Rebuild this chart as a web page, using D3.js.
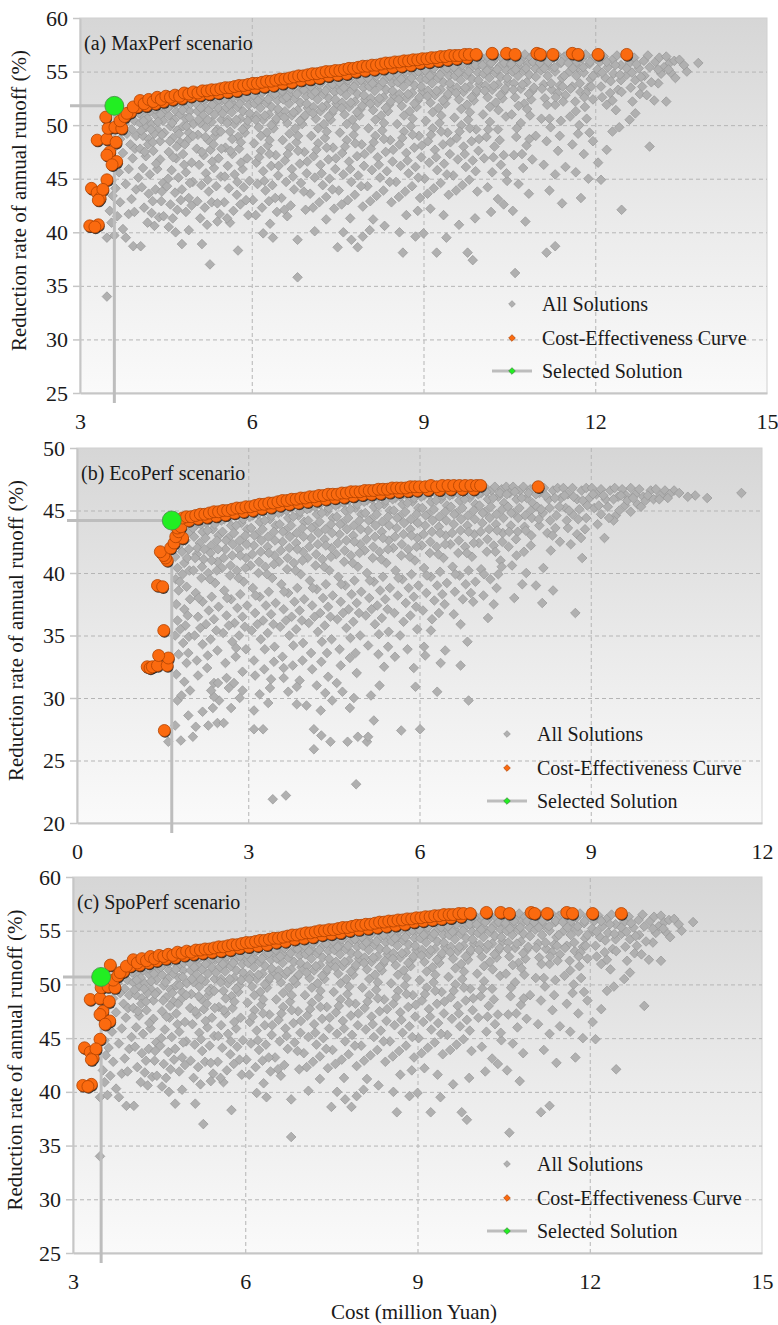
<!DOCTYPE html>
<html lang="en">
<head>
<meta charset="utf-8">
<title>Cost-effectiveness scatter</title>
<script src="https://cdn.jsdelivr.net/npm/d3@7"></script>
<style>
    body { margin: 0; background: #fff; }
    text { font-family: "Liberation Serif", "Times New Roman", "DejaVu Serif", serif; fill: #1a1a1a; }
</style>
</head>
<body>
<script>
// ---- data ----
var xTicksAC = [3, 6, 9, 12, 15];
var yTicksAC = [25, 30, 35, 40, 45, 50, 55, 60];
var xTicksB = [0, 3, 6, 9, 12];
var yTicksB = [20, 25, 30, 35, 40, 45, 50];

var legendLabels = ["All Solutions", "Cost-Effectiveness Curve", "Selected Solution"];
var panelTitles = ["(a) MaxPerf scenario", "(b) EcoPerf scenario", "(c) SpoPerf scenario"];

// selected solutions [cost, reduction]
var selectedA = [3.6, 51.8];
var selectedB = [1.66, 44.2];
var selectedC = [3.49, 50.7];

// all solutions, MaxPerf and SpoPerf (same cloud in both panels)
var allSolutionsA = [
[3.72,50.6],[3.78,50.1],[3.85,50.9],[3.9,49.6],[3.95,50.4],[3.82,49.2],[3.7,48.7],[3.88,48.2],[3.98,49.0],[3.6,47.9],[3.75,47.4],[3.92,46.9],[3.58,46.3],[3.68,45.6],[3.85,45.9],[3.55,44.8],[3.62,44.1],[3.8,44.5],[3.57,43.4],[3.7,42.8],[3.9,43.1],[3.52,42.0],[3.65,41.5],[3.85,41.7],[3.55,40.9],[3.75,40.3],[3.47,39.5],[3.6,39.7],[3.47,34.0],[3.93,38.7],[3.8,39.5],[3.95,41.9],[3.98,44.0],[3.96,47.8],
[4.02,51.6],[4.08,51.0],[4.12,51.8],[4.18,50.6],[4.22,51.3],[4.28,52.0],[4.33,50.9],[4.38,51.6],[4.42,52.1],[4.48,51.2],[4.05,50.2],[4.15,49.8],[4.25,50.1],[4.35,49.6],[4.45,50.4],[4.1,49.0],[4.2,48.7],[4.3,49.2],[4.4,48.5],[4.47,49.3],
[4.05,47.8],[4.15,47.1],[4.28,47.6],[4.4,46.8],[4.1,46.0],[4.22,45.4],[4.35,45.9],[4.45,44.6],[4.08,44.2],[4.2,43.6],[4.32,44.0],[4.42,42.9],[4.12,42.3],[4.25,41.8],[4.38,41.4],[4.06,38.7],[4.3,40.6],[4.46,41.5],
[4.52,52.4],[4.58,51.8],[4.62,52.5],[4.68,51.3],[4.72,52.2],[4.78,52.6],[4.82,51.7],[4.88,52.3],[4.95,52.7],[4.55,50.9],[4.65,50.5],[4.75,51.0],[4.85,50.6],[4.92,51.3],[4.58,49.9],[4.7,49.5],[4.8,49.9],[4.9,49.3],[4.98,50.1],[4.62,48.8],[4.75,48.4],[4.88,48.6],
[4.55,47.5],[4.68,46.9],[4.8,47.3],[4.95,46.5],[4.6,45.8],[4.72,45.1],[4.85,45.6],[4.97,44.7],[4.52,44.3],[4.66,43.7],[4.78,44.0],[4.9,43.2],[4.58,42.6],[4.7,42.1],[4.85,41.9],[4.95,42.5],[4.62,41.3],[4.78,38.9],[4.9,40.2],[4.55,40.5],
[5.02,52.8],[5.08,52.2],[5.13,52.9],[5.18,51.7],[5.22,52.5],[5.28,53.0],[5.33,52.0],[5.38,52.7],[5.45,53.1],[5.48,52.3],[5.05,51.3],[5.15,50.9],[5.25,51.4],[5.35,51.0],[5.42,51.6],[5.1,50.2],[5.2,49.8],[5.3,50.3],[5.4,49.6],[5.47,50.5],[5.06,49.1],[5.24,48.6],[5.36,49.0],
[5.04,47.8],[5.16,47.2],[5.28,47.7],[5.42,46.9],[5.08,46.3],[5.2,45.5],[5.34,46.0],[5.46,45.2],[5.12,44.4],[5.25,43.8],[5.38,44.3],[5.05,42.9],[5.18,42.3],[5.3,42.8],[5.44,41.7],[5.13,38.9],[5.27,37.0],[5.4,41.0],[5.22,40.7],
[5.52,53.1],[5.57,52.5],[5.62,53.2],[5.67,52.0],[5.72,52.8],[5.77,53.3],[5.82,52.3],[5.87,53.0],[5.93,53.4],[5.97,52.6],[5.55,51.6],[5.65,51.2],[5.75,51.7],[5.85,51.3],[5.95,51.9],[5.58,50.5],[5.7,50.1],[5.8,50.6],[5.9,49.9],[5.98,50.8],[5.62,49.4],[5.76,48.9],[5.88,49.3],
[5.54,47.9],[5.66,47.3],[5.78,47.8],[5.92,46.9],[5.58,46.2],[5.7,45.4],[5.84,45.9],[5.96,44.8],[5.6,44.1],[5.74,43.5],[5.86,44.2],[5.52,42.8],[5.68,42.0],[5.8,42.6],[5.94,41.6],[5.76,38.3],[5.62,40.9],
[6.02,53.5],[6.07,52.9],[6.12,53.6],[6.17,52.4],[6.22,53.2],[6.28,53.7],[6.33,52.7],[6.38,53.4],[6.44,53.8],[6.48,53.0],[6.05,52.0],[6.15,51.6],[6.25,52.1],[6.35,51.7],[6.45,52.3],[6.08,50.9],[6.2,50.5],[6.3,51.0],[6.4,50.3],[6.48,51.2],[6.12,49.8],[6.26,49.3],[6.38,49.7],
[6.04,48.3],[6.16,47.6],[6.28,48.1],[6.42,47.2],[6.08,46.5],[6.2,45.7],[6.34,46.2],[6.46,45.3],[6.1,44.5],[6.24,43.9],[6.36,44.4],[6.02,43.0],[6.18,42.3],[6.3,42.9],[6.44,41.9],[6.2,39.9],[6.37,39.5],[6.32,40.8],
[6.52,53.9],[6.57,53.3],[6.62,54.0],[6.67,52.8],[6.72,53.6],[6.77,54.1],[6.82,53.1],[6.87,53.8],[6.93,54.2],[6.97,53.4],[6.55,52.4],[6.65,52.0],[6.75,52.5],[6.85,52.1],[6.95,52.7],[6.58,51.3],[6.7,50.9],[6.8,51.4],[6.9,50.7],[6.98,51.6],[6.62,50.2],[6.76,49.7],[6.88,50.1],
[6.54,48.6],[6.66,47.9],[6.78,48.4],[6.92,47.5],[6.58,46.7],[6.7,45.9],[6.84,46.4],[6.96,45.5],[6.6,44.7],[6.74,44.0],[6.86,44.6],[6.52,43.2],[6.68,42.5],[6.8,39.3],[6.8,35.8],[6.94,42.1],[6.62,41.5],
[7.02,54.3],[7.07,53.7],[7.12,54.4],[7.17,53.2],[7.22,54.0],[7.28,54.5],[7.33,53.5],[7.38,54.2],[7.44,54.6],[7.48,53.8],[7.05,52.8],[7.15,52.4],[7.25,52.9],[7.35,52.5],[7.45,53.1],[7.08,51.7],[7.2,51.3],[7.3,51.8],[7.4,51.1],[7.48,52.0],[7.12,50.6],[7.26,50.1],[7.38,50.5],
[7.04,49.0],[7.16,48.3],[7.28,48.8],[7.42,47.9],[7.08,47.1],[7.2,46.3],[7.34,46.8],[7.46,45.9],[7.1,45.1],[7.24,44.4],[7.36,45.0],[7.02,43.6],[7.18,42.8],[7.3,43.3],[7.44,42.2],[7.1,40.1],[7.3,41.2],
[7.52,54.7],[7.57,54.1],[7.62,54.8],[7.67,53.6],[7.72,54.4],[7.77,54.9],[7.82,53.9],[7.87,54.6],[7.93,55.0],[7.97,54.2],[7.55,53.2],[7.65,52.8],[7.75,53.3],[7.85,52.9],[7.95,53.5],[7.58,52.1],[7.7,51.7],[7.8,52.2],[7.9,51.5],[7.98,52.4],[7.62,51.0],[7.76,50.5],[7.88,50.9],
[7.54,49.3],[7.66,48.6],[7.78,49.1],[7.92,48.2],[7.58,47.4],[7.7,46.6],[7.84,47.1],[7.96,46.2],[7.6,45.4],[7.74,44.7],[7.86,45.3],[7.52,43.9],[7.68,43.0],[7.8,43.5],[7.94,42.4],[7.5,38.6],[7.6,40.0],[7.74,39.3],[7.85,38.6],[7.94,39.6],[7.72,41.3],
[8.02,55.1],[8.07,54.5],[8.12,55.2],[8.17,54.0],[8.22,54.8],[8.28,55.3],[8.33,54.3],[8.38,55.0],[8.44,55.4],[8.48,54.6],[8.05,53.6],[8.15,53.2],[8.25,53.7],[8.35,53.3],[8.45,53.9],[8.08,52.5],[8.2,52.1],[8.3,52.6],[8.4,51.9],[8.48,52.8],[8.12,51.4],[8.26,50.9],[8.38,51.3],
[8.04,49.7],[8.16,49.0],[8.28,49.5],[8.42,48.6],[8.08,47.8],[8.2,47.0],[8.34,47.5],[8.46,46.6],[8.1,45.8],[8.24,45.1],[8.36,45.7],[8.02,44.3],[8.18,43.4],[8.3,43.9],[8.44,42.8],[8.12,41.2],[8.32,40.6],[8.06,40.2],
[8.52,55.5],[8.57,54.9],[8.62,55.6],[8.67,54.4],[8.72,55.2],[8.77,55.7],[8.82,54.7],[8.87,55.4],[8.93,55.7],[8.97,55.0],[8.55,54.0],[8.65,53.6],[8.75,54.1],[8.85,53.7],[8.95,54.3],[8.58,52.9],[8.7,52.5],[8.8,53.0],[8.9,52.3],[8.98,53.2],[8.62,51.8],[8.76,51.3],[8.88,51.7],
[8.54,50.1],[8.66,49.4],[8.78,49.9],[8.92,49.0],[8.58,48.2],[8.7,47.4],[8.84,47.9],[8.96,47.0],[8.6,46.2],[8.74,45.5],[8.86,46.1],[8.52,44.7],[8.68,43.8],[8.8,44.3],[8.94,43.2],[8.64,38.1],[8.58,40.0],[8.86,39.6],[8.7,41.6],[8.9,42.0],
[9.02,55.8],[9.07,55.2],[9.12,55.9],[9.17,54.7],[9.22,55.5],[9.28,56.0],[9.33,55.0],[9.38,55.7],[9.44,56.0],[9.48,55.3],[9.05,54.3],[9.15,53.9],[9.25,54.4],[9.35,54.0],[9.45,54.6],[9.08,53.2],[9.2,52.8],[9.3,53.3],[9.4,52.6],[9.48,53.5],[9.12,52.1],[9.26,51.6],[9.38,52.0],
[9.04,50.4],[9.16,49.7],[9.28,50.2],[9.42,49.3],[9.08,48.5],[9.2,47.7],[9.34,48.2],[9.46,47.3],[9.1,46.5],[9.24,45.8],[9.36,46.4],[9.02,45.0],[9.18,44.1],[9.3,44.6],[9.44,43.5],[9.0,39.9],[9.23,38.1],[9.4,39.5],[9.12,42.2],[9.35,41.6],
[9.52,56.1],[9.57,55.5],[9.62,56.2],[9.67,55.0],[9.72,55.8],[9.77,56.2],[9.82,55.3],[9.87,56.0],[9.93,56.3],[9.97,55.6],[9.55,54.6],[9.65,54.2],[9.75,54.7],[9.85,54.3],[9.95,54.9],[9.58,53.5],[9.7,53.1],[9.8,53.6],[9.9,52.9],[9.98,53.8],[9.62,52.4],[9.76,51.9],[9.88,52.3],
[9.54,50.7],[9.66,50.0],[9.78,50.5],[9.92,49.6],[9.58,48.8],[9.7,48.0],[9.84,48.5],[9.96,47.6],[9.6,46.8],[9.74,46.1],[9.86,46.7],[9.52,45.3],[9.68,44.4],[9.8,44.9],[9.94,43.8],[9.77,38.1],[9.86,37.4],[9.62,40.7],[9.9,41.3],
[10.02,56.3],[10.07,55.7],[10.12,56.4],[10.17,55.2],[10.22,56.0],[10.28,56.4],[10.33,55.5],[10.38,56.2],[10.44,56.5],[10.48,55.8],[10.05,54.8],[10.15,54.4],[10.25,54.9],[10.35,54.5],[10.45,55.1],[10.08,53.7],[10.2,53.3],[10.3,53.8],[10.4,53.1],[10.48,54.0],[10.12,52.6],[10.26,52.1],[10.38,52.5],
[10.04,51.0],[10.16,50.3],[10.3,49.6],[10.44,50.8],[10.1,48.9],[10.24,48.0],[10.4,47.2],[10.06,46.9],[10.2,45.6],[10.35,46.3],[10.12,44.2],[10.3,43.1],[10.46,44.8],[10.18,41.9],[10.4,42.6],
[10.52,56.5],[10.57,55.9],[10.62,56.5],[10.67,55.4],[10.72,56.2],[10.77,56.6],[10.82,55.7],[10.87,56.3],[10.93,56.6],[10.97,55.9],[10.55,55.0],[10.65,54.6],[10.75,55.1],[10.85,54.7],[10.95,55.3],[10.58,53.9],[10.7,53.4],[10.8,54.0],[10.9,53.2],[10.6,52.6],[10.76,52.0],[10.88,52.4],
[10.54,51.0],[10.7,50.2],[10.86,50.9],[10.62,48.9],[10.8,48.1],[10.96,49.0],[10.58,47.2],[10.74,46.0],[10.9,46.8],[10.66,44.5],[10.84,43.6],[10.6,36.2],[10.56,42.0],[10.78,41.0],
[11.02,56.6],[11.08,56.0],[11.14,56.5],[11.2,55.5],[11.27,56.3],[11.33,56.6],[11.4,55.8],[11.46,56.4],[11.05,55.1],[11.17,54.6],[11.3,55.0],[11.42,54.4],[11.1,53.8],[11.24,53.3],[11.38,53.7],[11.48,52.8],[11.12,52.5],[11.3,51.9],[11.44,52.2],
[11.06,50.6],[11.22,49.8],[11.4,50.4],[11.15,48.5],[11.35,47.6],[11.1,46.3],[11.3,45.4],[11.48,46.1],[11.2,43.9],[11.15,38.1],[11.3,38.7],[11.42,42.7],
[11.52,56.6],[11.58,56.0],[11.64,56.5],[11.7,55.4],[11.77,56.2],[11.83,56.6],[11.9,55.7],[11.96,56.3],[11.55,55.0],[11.67,54.6],[11.8,54.9],[11.92,54.3],[11.6,53.6],[11.74,53.1],[11.88,53.5],[11.65,52.2],[11.82,51.7],[11.96,52.4],
[11.56,50.8],[11.72,50.0],[11.9,49.3],[11.6,48.2],[11.8,47.3],[11.96,48.5],[11.66,45.6],[11.88,45.0],[11.75,43.2],
[12.02,56.5],[12.08,55.9],[12.15,56.4],[12.22,55.4],[12.3,56.1],[12.38,56.5],[12.45,55.6],[12.05,54.9],[12.18,54.4],[12.32,54.8],[12.45,54.2],[12.1,53.6],[12.26,53.0],[12.4,53.3],[12.46,53.1],[12.2,51.9],[12.36,51.4],[12.3,49.4],[12.05,46.5],[12.2,47.7],[12.1,44.9],[12.46,42.1],[12.42,49.8],
[12.52,56.4],[12.6,55.8],[12.68,56.3],[12.76,55.3],[12.85,56.0],[12.92,56.5],[12.55,54.7],[12.7,54.2],[12.86,54.6],[12.62,53.5],[12.78,52.9],[12.9,52.8],[12.7,51.1],[12.6,50.5],[12.95,48.0],[12.82,53.6],
[13.03,52.3],[13.05,55.9],[13.12,56.3],[13.2,55.4],[13.24,56.4],[13.3,55.8],[13.38,56.0],[13.47,56.1],[13.15,54.8],[13.32,54.9],[13.4,54.4],[13.6,55.0],[13.55,55.6],[13.8,55.8],[13.24,52.2],[13.1,53.9],
[4.03,51.1],[4.11,50.4],[4.17,51.5],[4.24,49.6],[4.31,51.5],[4.36,50.3],[4.43,49.1],[4.49,51.8],[4.07,49.5],[4.19,48.2],[4.27,48.4],[4.41,51.0],[4.13,47.5],[4.33,46.4],[4.02,45.1],[4.27,42.9],[4.43,43.8],[4.18,40.9],
[4.53,51.6],[4.61,50.2],[4.67,52.0],[4.73,49.2],[4.79,51.4],[4.86,49.9],[4.93,52.0],[4.97,49.0],[4.57,48.5],[4.69,48.0],[4.83,48.2],[4.91,50.7],[4.63,47.0],[4.82,46.3],[4.54,45.0],[4.76,43.0],[4.92,44.6],[4.67,40.0],
[5.03,52.0],[5.11,51.6],[5.17,52.4],[5.23,50.5],[5.31,51.9],[5.37,49.4],[5.43,52.4],[5.49,51.1],[5.07,50.5],[5.19,48.9],[5.33,48.2],[5.46,49.4],[5.13,47.5],[5.31,46.6],[5.47,47.8],[5.23,44.9],[5.4,42.7],[5.1,41.3],
[5.53,52.4],[5.61,51.9],[5.68,52.6],[5.73,50.5],[5.79,52.0],[5.84,49.6],[5.91,52.6],[5.96,51.1],[5.57,50.2],[5.66,48.7],[5.81,48.4],[5.93,50.4],[5.63,47.6],[5.81,46.5],[5.53,45.2],[5.75,44.7],[5.9,43.0],[5.57,41.3],
[6.03,52.8],[6.11,52.3],[6.18,53.1],[6.23,50.9],[6.29,52.4],[6.34,50.0],[6.41,52.9],[6.46,51.5],[6.07,50.5],[6.16,49.0],[6.31,48.6],[6.43,50.6],[6.13,47.0],[6.31,47.3],[6.47,46.2],[6.22,44.8],[6.41,43.2],[6.07,41.6],
[6.53,53.2],[6.61,52.6],[6.68,53.4],[6.73,51.2],[6.79,52.9],[6.84,50.4],[6.91,53.3],[6.96,52.0],[6.57,50.7],[6.66,49.2],[6.81,49.0],[6.93,50.9],[6.63,47.3],[6.81,47.6],[6.97,46.6],[6.72,45.2],[6.91,43.8],[6.57,42.1],
[7.03,53.6],[7.11,53.1],[7.18,53.8],[7.23,51.7],[7.29,53.2],[7.34,50.8],[7.41,53.8],[7.46,52.4],[7.07,51.1],[7.16,49.7],[7.31,49.4],[7.43,51.4],[7.13,47.7],[7.31,47.9],[7.47,46.9],[7.22,45.5],[7.41,44.0],[7.07,42.3],
[7.53,54.0],[7.61,53.5],[7.68,54.2],[7.73,52.1],[7.79,53.6],[7.84,51.2],[7.91,54.2],[7.96,52.8],[7.57,51.6],[7.66,50.1],[7.81,49.8],[7.93,51.8],[7.63,48.0],[7.81,48.3],[7.97,47.3],[7.72,45.9],[7.91,44.3],[7.57,42.6],
[8.03,54.4],[8.11,53.9],[8.18,54.6],[8.23,52.5],[8.29,54.0],[8.34,51.6],[8.41,54.6],[8.46,53.2],[8.07,52.0],[8.16,50.5],[8.31,50.2],[8.43,52.2],[8.13,48.4],[8.31,48.7],[8.47,47.7],[8.22,46.3],[8.41,44.7],[8.07,42.9],
[8.53,54.8],[8.61,54.3],[8.68,55.0],[8.73,52.9],[8.79,54.4],[8.84,52.0],[8.91,55.0],[8.96,53.6],[8.57,52.4],[8.66,50.9],[8.81,50.6],[8.93,52.6],[8.63,48.8],[8.81,49.1],[8.97,48.1],[8.72,46.7],[8.91,45.1],[8.57,43.3],
[9.03,55.1],[9.11,54.6],[9.18,55.3],[9.23,53.2],[9.29,54.7],[9.34,52.3],[9.41,55.3],[9.46,53.9],[9.07,52.7],[9.16,51.2],[9.31,50.9],[9.43,52.9],[9.13,49.1],[9.31,49.4],[9.47,48.4],[9.22,47.0],[9.41,45.4],[9.07,43.6],
[9.53,55.4],[9.61,54.9],[9.68,55.6],[9.73,53.5],[9.79,55.0],[9.84,52.6],[9.91,55.6],[9.96,54.2],[9.57,53.0],[9.66,51.5],[9.81,51.2],[9.93,53.2],[9.63,49.4],[9.81,49.7],[9.97,48.7],[9.72,47.3],[9.91,45.7],[9.57,43.9],
[10.03,55.6],[10.11,55.1],[10.18,55.8],[10.23,53.7],[10.29,55.2],[10.34,52.8],[10.41,55.8],[10.46,54.4],[10.07,53.2],[10.16,51.7],[10.31,51.4],[10.43,53.4],[10.13,49.6],[10.33,48.6],[10.22,47.0],[10.45,45.5],
[10.53,55.7],[10.61,55.2],[10.68,55.9],[10.73,53.8],[10.79,55.3],[10.84,52.9],[10.91,55.9],[10.96,54.5],[10.57,53.3],[10.66,51.8],[10.81,51.5],[10.93,53.5],[10.63,49.7],[10.85,48.7],[10.72,47.3],
[11.03,55.8],[11.11,55.3],[11.18,55.9],[11.23,53.9],[11.29,55.4],[11.34,53.0],[11.41,55.9],[11.46,54.6],[11.07,53.4],[11.16,51.9],[11.31,52.6],[11.43,53.6],[11.2,50.6],[11.38,49.0],
[11.53,55.8],[11.61,55.3],[11.68,55.9],[11.73,53.9],[11.79,55.4],[11.84,53.0],[11.91,55.9],[11.96,54.6],[11.57,53.4],[11.66,51.3],[11.81,52.6],[11.93,53.6],[11.7,49.2],[11.85,50.6],
[12.04,55.2],[12.12,54.9],[12.2,55.9],[12.27,54.1],[12.35,55.6],[12.43,54.7],[12.12,52.6],[12.3,52.3],[12.55,55.3],[12.64,54.9],[12.72,55.7],[12.8,54.5],[12.95,55.4],[12.98,54.0],[13.1,55.2],[13.28,55.2],[12.65,52.2]
];

// cost-effectiveness curve, MaxPerf and SpoPerf
var frontA = [
[3.17,40.6],[3.32,40.7],[3.26,40.5],[3.2,44.1],[3.3,43.7],[3.35,43.2],[3.47,44.9],[3.4,44.0],[3.32,43.0],
[3.52,47.5],[3.47,47.2],[3.64,46.6],[3.56,46.3],[3.3,48.6],[3.47,48.7],[3.63,48.4],
[3.49,49.7],[3.61,49.8],[3.73,49.7],[3.45,50.75],[3.7,50.4],[3.78,50.8],[3.65,51.8],
[3.88,51.2],[4.0,51.7],[4.16,51.8],[4.32,52.0],[4.46,52.2],[4.62,52.4],[4.78,52.5],[4.94,52.7],[5.1,52.8],[5.26,52.9],[5.42,53.0],[5.58,53.1],[5.74,53.2],[5.9,53.4],
[6.06,53.5],[6.22,53.6],[6.38,53.7],[6.54,53.9],[6.7,54.0],[6.86,54.2],[7.02,54.3],[7.18,54.4],[7.34,54.6],[7.5,54.7],[7.66,54.8],[7.82,55.0],[7.98,55.1],
[8.14,55.2],[8.3,55.3],[8.46,55.4],[8.62,55.5],[8.78,55.6],[8.94,55.8],[9.1,55.9],[9.26,56.0],[9.42,56.1],[9.58,56.2],[9.76,56.3],
[3.82,51.1],[3.93,51.7],[4.05,52.3],[4.12,52.0],[4.2,52.4],[4.28,52.2],[4.35,52.6],[4.42,52.4],[4.5,52.7],[4.58,52.6],[4.66,52.8],[4.74,52.7],[4.82,53.0],[4.9,52.9],[4.98,53.1],
[5.06,53.0],[5.14,53.2],[5.22,53.2],[5.3,53.3],[5.38,53.3],[5.46,53.4],[5.54,53.5],[5.62,53.5],[5.7,53.6],[5.78,53.7],[5.86,53.7],[5.94,53.8],
[6.02,53.9],[6.1,53.9],[6.18,54.0],[6.26,54.1],[6.34,54.1],[6.42,54.2],[6.5,54.3],[6.58,54.3],[6.66,54.4],[6.74,54.5],[6.82,54.6],[6.9,54.6],[6.98,54.7],
[7.06,54.8],[7.14,54.8],[7.22,54.9],[7.3,55.0],[7.38,55.0],[7.46,55.1],[7.54,55.1],[7.62,55.2],[7.7,55.3],[7.78,55.3],[7.86,55.4],[7.94,55.5],
[8.02,55.5],[8.1,55.6],[8.18,55.6],[8.26,55.7],[8.34,55.8],[8.42,55.8],[8.5,55.9],[8.58,55.9],[8.66,56.0],[8.74,56.0],[8.82,56.1],[8.9,56.1],[8.98,56.2],
[9.06,56.2],[9.14,56.3],[9.22,56.3],[9.3,56.4],[9.38,56.4],[9.46,56.5],[9.55,56.5],[9.62,56.5],[9.72,56.6],[9.8,56.6],[9.92,56.6],
[10.2,56.7],[10.45,56.7],[10.6,56.6],[10.98,56.7],[11.04,56.6],[11.26,56.6],[11.6,56.7],[11.7,56.6],[12.05,56.6],[12.55,56.6]
];

// all solutions, EcoPerf
var allSolutionsB = [
[1.72,43.8],[1.8,44.0],[1.75,43.0],[1.86,43.4],[1.95,44.1],[1.78,42.2],[1.9,42.6],[1.98,43.3],[1.72,41.3],[1.84,41.7],[1.96,41.9],[1.76,40.4],[1.88,40.8],[1.73,39.5],[1.85,39.9],[1.97,40.2],[1.78,38.6],[1.92,38.9],[1.74,37.5],[1.88,37.1],[1.98,37.9],[1.76,36.2],[1.9,35.8],[1.72,35.0],[1.86,34.4],[1.96,34.9],[1.78,33.5],[1.92,32.8],[1.74,31.9],[1.88,31.3],[1.98,30.6],[1.6,26.5],[1.82,26.6],[1.76,29.8],[1.72,27.8],
[2.02,44.3],[2.08,43.8],[2.14,44.5],[2.2,43.3],[2.26,44.0],[2.32,44.6],[2.38,43.5],[2.44,44.2],[2.48,43.0],[2.05,42.9],[2.15,42.4],[2.25,42.8],[2.35,42.2],[2.45,42.6],[2.1,41.5],[2.22,41.1],[2.34,41.6],[2.46,40.9],
[2.04,40.2],[2.18,39.6],[2.3,40.0],[2.42,39.2],[2.08,38.4],[2.2,37.7],[2.36,38.1],[2.48,37.3],[2.12,36.5],[2.26,35.9],[2.4,36.3],[2.06,35.0],[2.2,34.3],[2.34,34.7],[2.46,33.8],[2.1,33.0],[2.28,32.4],[2.4,31.2],[2.47,31.2],[2.38,29.2],[2.49,29.8],[2.4,30.1],[2.03,26.9],[2.08,27.7],[2.3,27.8],[2.46,28.0],
[2.52,44.9],[2.58,44.3],[2.64,45.0],[2.7,43.8],[2.76,44.6],[2.82,45.1],[2.88,44.0],[2.94,44.8],[2.98,43.5],[2.55,43.3],[2.65,42.8],[2.75,43.2],[2.85,42.6],[2.95,43.0],[2.6,41.9],[2.72,41.4],[2.84,41.9],[2.96,41.2],
[2.54,40.4],[2.68,39.8],[2.8,40.2],[2.92,39.3],[2.58,38.6],[2.7,37.9],[2.86,38.3],[2.98,37.4],[2.62,36.6],[2.76,36.0],[2.9,36.5],[2.56,35.2],[2.72,34.5],[2.84,35.0],[2.96,33.9],[2.6,32.8],[2.78,33.3],[2.9,32.1],[2.57,28.0],[2.75,31.2],[2.9,30.6],[2.66,30.8],
[3.02,45.2],[3.08,44.6],[3.14,45.3],[3.2,44.1],[3.26,44.9],[3.32,45.4],[3.38,44.3],[3.44,45.1],[3.48,43.8],[3.05,43.6],[3.15,43.1],[3.25,43.5],[3.35,42.9],[3.45,43.3],[3.1,42.2],[3.22,41.7],[3.34,42.1],[3.46,41.4],
[3.04,40.6],[3.18,40.0],[3.3,40.5],[3.42,39.6],[3.08,38.8],[3.2,38.1],[3.36,38.5],[3.48,37.6],[3.12,36.8],[3.26,36.2],[3.4,36.7],[3.06,35.4],[3.22,34.7],[3.34,35.2],[3.46,34.1],[3.1,33.0],[3.28,32.3],[3.4,31.5],[3.1,29.0],[3.1,27.5],[3.26,27.5],[3.43,21.9],[3.2,30.3],[3.38,30.8],
[3.52,45.5],[3.58,44.9],[3.64,45.6],[3.7,44.4],[3.76,45.2],[3.82,45.7],[3.88,44.6],[3.94,45.4],[3.98,44.1],[3.55,43.9],[3.65,43.4],[3.75,43.8],[3.85,43.2],[3.95,43.6],[3.6,42.5],[3.72,42.0],[3.84,42.4],[3.96,41.7],
[3.54,40.9],[3.68,40.3],[3.8,40.8],[3.92,39.9],[3.58,39.1],[3.7,38.4],[3.86,38.8],[3.98,37.9],[3.62,37.1],[3.76,36.5],[3.9,37.0],[3.56,35.7],[3.72,35.0],[3.84,35.5],[3.96,34.4],[3.6,33.3],[3.78,32.6],[3.9,31.4],[3.66,22.2],[3.7,30.5],[3.85,30.9],[3.62,31.6],
[4.02,45.8],[4.08,45.2],[4.14,45.9],[4.2,44.7],[4.26,45.5],[4.32,46.0],[4.38,44.9],[4.44,45.7],[4.48,44.4],[4.05,44.2],[4.15,43.7],[4.25,44.1],[4.35,43.5],[4.45,43.9],[4.1,42.8],[4.22,42.3],[4.34,42.7],[4.46,42.0],
[4.04,41.2],[4.18,40.6],[4.3,41.1],[4.42,40.2],[4.08,39.4],[4.2,38.7],[4.36,39.1],[4.48,38.2],[4.12,37.4],[4.26,36.8],[4.4,37.3],[4.06,36.0],[4.22,35.3],[4.34,35.8],[4.46,34.7],[4.1,33.6],[4.28,32.9],[4.4,31.7],[4.15,25.9],[4.15,27.5],[4.28,27.0],[4.44,26.5],[4.27,29.0],[4.02,29.4],[4.35,30.4],[4.2,31.0],
[4.52,46.1],[4.58,45.5],[4.64,46.2],[4.7,45.0],[4.76,45.8],[4.82,46.3],[4.88,45.2],[4.94,46.0],[4.98,44.7],[4.55,44.5],[4.65,44.0],[4.75,44.4],[4.85,43.8],[4.95,44.2],[4.6,43.1],[4.72,42.6],[4.84,43.0],[4.96,42.3],
[4.54,41.5],[4.68,40.9],[4.8,41.4],[4.92,40.5],[4.58,39.7],[4.7,39.0],[4.86,39.4],[4.98,38.5],[4.62,37.7],[4.76,37.1],[4.9,37.6],[4.56,36.3],[4.72,35.6],[4.84,36.1],[4.96,35.0],[4.6,33.9],[4.78,33.2],[4.9,32.0],[4.74,26.5],[4.92,26.9],[4.89,23.1],[4.78,29.2],[4.65,30.5],[4.85,30.0],
[5.02,46.4],[5.08,45.8],[5.14,46.5],[5.2,45.3],[5.26,46.1],[5.32,46.5],[5.38,45.5],[5.44,46.3],[5.48,45.0],[5.05,44.8],[5.15,44.3],[5.25,44.7],[5.35,44.1],[5.45,44.5],[5.1,43.4],[5.22,42.9],[5.34,43.3],[5.46,42.6],
[5.04,41.8],[5.18,41.2],[5.3,41.7],[5.42,40.8],[5.08,40.0],[5.2,39.3],[5.36,39.7],[5.48,38.8],[5.12,38.0],[5.26,37.4],[5.4,37.9],[5.06,36.6],[5.22,35.9],[5.34,36.4],[5.46,35.3],[5.1,34.2],[5.28,33.5],[5.08,26.5],[5.1,26.9],[5.2,28.2],[5.3,31.0],[5.15,30.2],
[5.52,46.6],[5.58,46.0],[5.64,46.6],[5.7,45.5],[5.76,46.3],[5.82,46.7],[5.88,45.7],[5.94,46.5],[5.98,45.2],[5.55,45.0],[5.65,44.5],[5.75,44.9],[5.85,44.3],[5.95,44.7],[5.6,43.6],[5.72,43.1],[5.84,43.5],[5.96,42.8],
[5.54,42.0],[5.68,41.4],[5.8,41.9],[5.92,41.0],[5.58,40.2],[5.7,39.5],[5.86,39.9],[5.98,39.0],[5.62,38.2],[5.76,37.6],[5.9,38.1],[5.56,36.8],[5.72,36.1],[5.84,36.6],[5.96,35.5],[5.57,33.3],[5.68,27.4],[5.93,30.9],
[6.02,46.7],[6.08,46.2],[6.14,46.7],[6.2,45.7],[6.26,46.5],[6.32,46.8],[6.38,45.9],[6.44,46.6],[6.48,45.4],[6.05,45.2],[6.15,44.7],[6.25,45.1],[6.35,44.5],[6.45,44.9],[6.1,43.8],[6.22,43.3],[6.34,43.7],[6.46,43.0],
[6.04,42.2],[6.18,41.6],[6.3,42.1],[6.42,41.2],[6.08,40.4],[6.2,39.7],[6.36,40.1],[6.48,39.2],[6.12,38.4],[6.26,37.8],[6.4,38.3],[6.06,37.0],[6.22,36.3],[6.34,36.8],[6.08,34.1],[6.1,33.4],[6.37,32.8],[6.31,30.5],[6.01,27.5],
[6.52,46.8],[6.58,46.3],[6.64,46.8],[6.7,45.8],[6.76,46.6],[6.82,46.9],[6.88,46.0],[6.94,46.7],[6.98,45.5],[6.55,45.3],[6.65,44.8],[6.75,45.2],[6.85,44.6],[6.95,45.0],[6.6,43.9],[6.72,43.4],[6.84,43.8],[6.96,43.1],
[6.54,42.3],[6.68,41.6],[6.8,42.1],[6.92,41.3],[6.58,40.5],[6.7,39.8],[6.86,40.2],[6.98,39.3],[6.62,38.5],[6.76,37.9],[6.9,38.4],[6.72,32.6],[6.84,34.5],[6.86,29.8],[6.6,36.7],
[7.02,46.9],[7.08,46.4],[7.14,46.9],[7.2,45.9],[7.26,46.6],[7.32,46.9],[7.38,46.1],[7.44,46.7],[7.48,45.6],[7.05,45.4],[7.15,44.9],[7.25,45.3],[7.35,44.7],[7.45,45.1],[7.1,44.0],[7.22,43.5],[7.34,43.9],[7.46,43.2],
[7.04,42.4],[7.18,41.7],[7.3,42.2],[7.42,41.0],[7.08,40.3],[7.24,39.5],[7.38,39.9],[7.12,38.2],[7.3,37.5],[7.2,36.4],
[7.52,46.9],[7.58,46.4],[7.64,46.9],[7.7,45.9],[7.76,46.6],[7.82,46.9],[7.88,46.0],[7.94,46.7],[7.98,45.6],[7.55,45.3],[7.65,44.8],[7.75,45.2],[7.85,44.6],[7.95,45.0],[7.6,43.8],[7.72,43.3],[7.84,43.7],[7.96,43.0],
[7.56,42.1],[7.7,41.4],[7.87,40.0],[7.62,40.6],[7.8,39.1],[7.66,38.0],
[8.02,46.9],[8.1,46.4],[8.18,46.8],[8.26,45.9],[8.34,46.6],[8.42,46.8],[8.48,46.0],[8.06,45.3],[8.16,44.8],[8.28,45.2],[8.4,44.6],[8.1,43.8],[8.24,43.2],[8.38,43.6],[8.17,40.4],[8.04,39.0],[8.15,37.6],[8.34,38.6],[8.3,41.8],[8.46,42.5],
[8.52,46.8],[8.6,46.3],[8.68,46.8],[8.76,45.9],[8.84,46.6],[8.92,46.8],[8.98,46.0],[8.56,45.2],[8.68,44.7],[8.8,45.1],[8.92,44.4],[8.6,43.6],[8.76,43.1],[8.9,43.5],[8.85,41.2],[8.73,36.8],[8.65,42.3],
[9.02,46.8],[9.1,46.3],[9.18,46.7],[9.26,45.9],[9.34,46.6],[9.42,46.8],[9.48,46.1],[9.06,45.2],[9.18,44.7],[9.3,45.3],[9.44,44.6],[9.12,43.9],[9.24,42.8],[9.4,44.2],[9.5,45.0],
[9.55,46.7],[9.62,46.2],[9.7,46.8],[9.78,46.3],[9.85,46.7],[9.92,46.1],[9.96,45.8],[9.7,44.9],[9.6,45.4],[9.82,45.5],[10.05,46.6],[10.14,46.7],[10.22,46.2],[10.3,46.6],[10.46,46.6],[10.38,46.3],[10.1,45.9],[10.83,46.2],[11.04,46.0],[11.64,46.4],
[1.83,42.9],[1.93,41.2],[1.8,39.3],[1.94,36.6],[1.81,35.5],[1.95,33.6],[1.83,30.2],[1.95,28.6],
[2.03,43.6],[2.11,42.0],[2.17,43.9],[2.23,41.9],[2.29,43.4],[2.36,41.0],[2.41,43.9],[2.47,41.9],[2.07,41.2],[2.19,40.5],[2.33,39.5],[2.45,40.2],[2.13,38.0],[2.31,37.0],[2.44,35.4],[2.16,35.6],[2.29,33.4],[2.12,31.8],[2.35,30.6],[2.2,28.9],
[2.53,44.2],[2.61,42.6],[2.67,44.4],[2.73,42.3],[2.79,43.8],[2.86,41.4],[2.91,44.3],[2.97,42.3],[2.57,41.2],[2.69,40.6],[2.83,39.6],[2.95,40.4],[2.63,38.0],[2.81,37.2],[2.94,35.7],[2.66,35.8],[2.79,34.0],[2.62,31.6],[2.85,30.0],[2.7,29.2],
[3.03,44.5],[3.11,43.0],[3.17,44.7],[3.23,42.6],[3.29,44.2],[3.36,41.6],[3.41,44.6],[3.47,42.6],[3.07,41.5],[3.19,40.9],[3.33,39.9],[3.45,40.7],[3.13,38.2],[3.31,37.4],[3.44,35.9],[3.16,35.9],[3.29,33.9],[3.12,31.8],[3.35,29.6],[3.45,32.9],
[3.53,44.8],[3.61,43.3],[3.67,45.0],[3.73,42.9],[3.79,44.5],[3.86,41.9],[3.91,44.9],[3.97,42.9],[3.57,41.8],[3.69,41.2],[3.83,40.2],[3.95,41.0],[3.63,38.5],[3.81,37.7],[3.94,36.2],[3.66,36.2],[3.79,34.2],[3.62,32.4],[3.85,29.5],[3.95,33.0],
[4.03,45.1],[4.11,43.6],[4.17,45.3],[4.23,43.2],[4.29,44.8],[4.36,42.2],[4.41,45.2],[4.47,43.2],[4.07,42.1],[4.19,41.5],[4.33,40.5],[4.45,41.3],[4.13,38.8],[4.31,38.0],[4.44,36.5],[4.16,36.5],[4.29,34.5],[4.12,32.3],[4.38,33.6],[4.47,29.8],
[4.53,45.4],[4.61,43.9],[4.67,45.6],[4.73,43.5],[4.79,45.1],[4.86,42.5],[4.91,45.5],[4.97,43.5],[4.57,42.4],[4.69,41.8],[4.83,40.8],[4.95,41.6],[4.63,39.1],[4.81,38.3],[4.94,36.8],[4.66,36.8],[4.79,34.8],[4.62,32.6],[4.88,33.6],[4.55,31.2],
[5.03,45.7],[5.11,44.2],[5.17,45.9],[5.23,43.8],[5.29,45.4],[5.36,42.8],[5.41,45.8],[5.47,43.8],[5.07,42.7],[5.19,42.1],[5.33,41.1],[5.45,41.9],[5.13,39.4],[5.31,38.6],[5.44,37.1],[5.16,37.1],[5.29,35.1],[5.38,32.5],[5.45,34.1],
[5.53,45.9],[5.61,44.4],[5.67,46.1],[5.73,44.0],[5.79,45.6],[5.86,43.0],[5.91,46.0],[5.97,44.0],[5.57,42.9],[5.69,42.3],[5.83,41.3],[5.95,42.1],[5.63,39.6],[5.81,38.8],[5.94,37.3],[5.66,35.0],[5.79,33.9],[5.9,32.4],
[6.03,46.1],[6.11,44.6],[6.17,46.3],[6.23,44.2],[6.29,45.8],[6.36,43.2],[6.41,46.2],[6.47,44.2],[6.07,43.1],[6.19,42.5],[6.33,41.5],[6.45,42.3],[6.13,39.8],[6.31,39.0],[6.44,37.5],[6.2,35.4],[6.45,33.8],
[6.53,46.2],[6.61,44.7],[6.67,46.4],[6.73,44.3],[6.79,45.9],[6.86,43.3],[6.91,46.3],[6.97,44.3],[6.57,43.2],[6.69,42.6],[6.83,41.6],[6.95,42.4],[6.63,39.9],[6.81,39.1],[6.94,37.7],[6.72,35.9],
[7.03,46.3],[7.11,44.8],[7.17,46.5],[7.23,44.4],[7.29,46.0],[7.36,43.4],[7.41,46.4],[7.47,44.4],[7.07,43.3],[7.19,42.7],[7.33,41.7],[7.45,42.5],[7.13,39.9],[7.35,38.8],[7.44,40.5],
[7.53,46.3],[7.61,44.8],[7.67,46.5],[7.73,44.4],[7.79,46.0],[7.86,43.4],[7.91,46.4],[7.97,44.4],[7.57,43.3],[7.69,42.7],[7.83,41.7],[7.95,42.2],
[8.04,46.3],[8.13,45.1],[8.21,46.2],[8.29,44.2],[8.37,46.0],[8.45,45.3],[8.09,44.3],[8.33,43.0],[8.54,46.2],[8.62,45.0],[8.7,46.1],[8.78,44.3],[8.86,45.8],[8.94,45.4],[8.58,44.2],[8.83,42.8],
[9.04,46.3],[9.14,45.4],[9.22,46.2],[9.32,44.4],[9.4,45.9],[9.53,46.2],[9.64,45.8],[9.74,46.0],[9.88,45.3],[10.0,46.2],[10.2,45.9],[10.35,46.0],[10.55,46.4],[10.7,46.1]
];

// cost-effectiveness curve, EcoPerf
var frontB = [
[1.53,27.4],[1.23,32.5],[1.28,32.4],[1.32,32.5],[1.41,32.6],[1.58,32.6],[1.6,33.2],[1.43,33.4],[1.52,35.4],[1.41,39.0],[1.5,38.9],
[1.58,41.0],[1.55,41.2],[1.52,41.4],[1.46,41.7],[1.64,42.0],[1.7,42.4],[1.85,42.8],[1.73,42.9],[1.78,43.3],[1.76,43.6],[1.82,43.7],
[1.96,44.2],[2.12,44.35],[2.28,44.45],[2.44,44.55],[2.6,44.65],[2.76,44.8],[2.92,44.9],[3.08,45.0],[3.24,45.15],[3.4,45.25],[3.56,45.4],[3.72,45.5],[3.88,45.6],
[4.04,45.7],[4.2,45.8],[4.36,45.9],[4.52,46.0],[4.68,46.05],[4.84,46.15],[5.0,46.25],[5.16,46.3],[5.32,46.35],[5.48,46.45],[5.64,46.5],[5.8,46.55],[5.96,46.6],
[6.15,46.65],[6.35,46.65],[6.55,46.7],[6.75,46.7],[6.95,46.7],
[1.85,44.4],[1.92,44.5],[2.0,44.5],[2.08,44.6],[2.16,44.7],[2.24,44.7],[2.32,44.8],[2.4,44.9],[2.48,44.9],[2.56,45.0],[2.64,45.0],[2.72,45.1],[2.8,45.2],[2.88,45.2],[2.96,45.3],
[3.04,45.3],[3.12,45.4],[3.2,45.5],[3.28,45.5],[3.36,45.6],[3.44,45.6],[3.52,45.7],[3.6,45.8],[3.68,45.8],[3.76,45.9],[3.84,45.9],[3.92,46.0],
[4.0,46.0],[4.08,46.1],[4.16,46.1],[4.24,46.2],[4.32,46.2],[4.4,46.3],[4.48,46.3],[4.56,46.3],[4.64,46.4],[4.72,46.4],[4.8,46.5],[4.88,46.5],[4.96,46.5],
[5.04,46.6],[5.12,46.6],[5.2,46.6],[5.28,46.7],[5.36,46.7],[5.44,46.7],[5.52,46.8],[5.6,46.8],[5.68,46.8],[5.76,46.8],[5.84,46.9],[5.92,46.9],
[6.0,46.9],[6.1,46.9],[6.2,47.0],[6.3,46.9],[6.4,47.0],[6.5,47.0],[6.6,47.0],[6.7,47.0],[6.8,47.0],[6.9,47.0],[7.0,47.0],[7.07,47.0],[8.08,46.9]
];

// ---- layout ----
var W = 778, H = 1325;
var panels = [
    {title: panelTitles[0], left: 80, right: 767, top: 18, bottom: 393, xDom: [3, 15], yDom: [25, 60],
     xTicks: xTicksAC, yTicks: yTicksAC, all: allSolutionsA, front: frontA, sel: selectedA},
    {title: panelTitles[1], left: 77, right: 762, top: 448, bottom: 823, xDom: [0, 12], yDom: [20, 50],
     xTicks: xTicksB, yTicks: yTicksB, all: allSolutionsB, front: frontB, sel: selectedB},
    {title: panelTitles[2], left: 73, right: 762, top: 877, bottom: 1253, xDom: [3, 15], yDom: [25, 60],
     xTicks: xTicksAC, yTicks: yTicksAC, all: allSolutionsA, front: frontA, sel: selectedC}
];

var GRAY = "#b0b0b0", GRAY_EDGE = "#979797";
var ORANGE = "#fb6a0f", ORANGE_EDGE = "#b24300";
var GREEN = "#22ee22";

var svg = d3.select("body").append("svg")
    .attr("width", W)
    .attr("height", H);

var grad = svg.append("defs").append("linearGradient")
    .attr("id", "bg").attr("x1", 0).attr("y1", 0).attr("x2", 0).attr("y2", 1);
grad.append("stop").attr("offset", "0%").attr("stop-color", "#d6d6d6");
grad.append("stop").attr("offset", "55%").attr("stop-color", "#ebebeb");
grad.append("stop").attr("offset", "100%").attr("stop-color", "#fafafa");

var diamond = d3.symbol(d3.symbolSquare, 46);
var smallDiamond = d3.symbol(d3.symbolSquare, 22);

panels.forEach(drawPanel);

// shared x title
svg.append("text")
    .attr("x", 414).attr("y", 1319)
    .attr("text-anchor", "middle")
    .style("font-size", "21px")
    .text("Cost (million Yuan)");

function drawPanel(p) {
    var x = d3.scaleLinear().domain(p.xDom).range([p.left, p.right]);
    var y = d3.scaleLinear().domain(p.yDom).range([p.bottom, p.top]);
    var g = svg.append("g");

    g.append("rect")
        .attr("x", p.left).attr("y", p.top)
        .attr("width", p.right - p.left).attr("height", p.bottom - p.top)
        .attr("fill", "url(#bg)")
        .attr("stroke", "#d0d0d0");

    // dashed grid
    g.append("g")
        .attr("transform", "translate(0," + p.bottom + ")")
        .call(d3.axisBottom(x).tickValues(p.xTicks.slice(1, -1)).tickSize(-(p.bottom - p.top)).tickFormat(""))
        .call(function (s) {
            s.select(".domain").remove();
            s.selectAll("line").attr("stroke", "#b5b5b5").attr("stroke-dasharray", "4,3");
        });
    g.append("g")
        .attr("transform", "translate(" + p.left + ",0)")
        .call(d3.axisLeft(y).tickValues(p.yTicks.slice(1, -1)).tickSize(-(p.right - p.left)).tickFormat(""))
        .call(function (s) {
            s.select(".domain").remove();
            s.selectAll("line").attr("stroke", "#b5b5b5").attr("stroke-dasharray", "4,3");
        });

    // axes
    var yAxis = g.append("g")
        .attr("transform", "translate(" + p.left + ",0)")
        .call(d3.axisLeft(y).tickValues(p.yTicks).tickSize(7).tickSizeOuter(0).tickPadding(5));
    var xAxis = g.append("g")
        .attr("transform", "translate(0," + p.bottom + ")")
        .call(d3.axisBottom(x).tickValues(p.xTicks).tickSize(0).tickPadding(20));
    [xAxis, yAxis].forEach(function (a) {
        a.attr("font-family", null);
        a.select(".domain").attr("stroke", "#c6c6c6").attr("stroke-width", 2);
        a.selectAll(".tick line").attr("stroke", "#c6c6c6").attr("stroke-width", 1.5);
        a.selectAll(".tick text")
            .style("font-size", "22px")
            .attr("fill", "#1a1a1a");
    });

    // y title
    var tx = Math.max(p.left - 54, 22);
    g.append("text")
        .attr("transform", "translate(" + tx + "," + ((p.top + p.bottom) / 2 - 5) + ") rotate(-90)")
        .attr("text-anchor", "middle")
        .style("font-size", "21px")
        .text("Reduction rate of annual runoff (%)");

    // panel title
    g.append("text")
        .attr("x", p.left + 4).attr("y", p.top + 32)
        .style("font-size", "20px")
        .text(p.title);

    // all solutions
    g.append("g").selectAll("path")
        .data(p.all)
        .join("path")
        .attr("d", diamond)
        .attr("transform", function (d) { return "translate(" + x(d[0]) + "," + y(d[1]) + ") rotate(45)"; })
        .attr("fill", GRAY)
        .attr("stroke", GRAY_EDGE)
        .attr("stroke-width", 0.7);

    // selected solution guides
    var sx = x(p.sel[0]), sy = y(p.sel[1]);
    g.append("line")
        .attr("x1", p.left - 10).attr("x2", sx).attr("y1", sy).attr("y2", sy)
        .attr("stroke", "#bdbdbd").attr("stroke-width", 3);
    g.append("line")
        .attr("x1", sx).attr("x2", sx).attr("y1", sy).attr("y2", p.bottom + 10)
        .attr("stroke", "#bdbdbd").attr("stroke-width", 3);

    // cost-effectiveness curve: shadow then markers
    g.append("g").selectAll("circle")
        .data(p.front)
        .join("circle")
        .attr("cx", function (d) { return x(d[0]) + 0.8; })
        .attr("cy", function (d) { return y(d[1]) + 1.6; })
        .attr("r", 5.6)
        .attr("fill", "#1a1a1a")
        .attr("opacity", 0.85);
    g.append("g").selectAll("circle")
        .data(p.front)
        .join("circle")
        .attr("cx", function (d) { return x(d[0]); })
        .attr("cy", function (d) { return y(d[1]); })
        .attr("r", 6)
        .attr("fill", ORANGE)
        .attr("stroke", ORANGE_EDGE)
        .attr("stroke-width", 0.8);

    g.append("circle")
        .attr("cx", sx).attr("cy", sy).attr("r", 9.5)
        .attr("fill", GREEN)
        .attr("stroke", "#4a8a4a")
        .attr("stroke-width", 0.8);

    // legend
    var lx = p.right - 255;
    var rows = [p.bottom - 82, p.bottom - 48, p.bottom - 15];
    var lg = g.append("g");
    lg.append("path").attr("d", smallDiamond)
        .attr("transform", "translate(" + lx + "," + (rows[0] - 7) + ") rotate(45)")
        .attr("fill", GRAY).attr("stroke", GRAY_EDGE).attr("stroke-width", 0.7);
    lg.append("path").attr("d", smallDiamond)
        .attr("transform", "translate(" + lx + "," + (rows[1] - 7) + ") rotate(45)")
        .attr("fill", ORANGE).attr("stroke", ORANGE_EDGE).attr("stroke-width", 0.7);
    lg.append("line")
        .attr("x1", lx - 20).attr("x2", lx + 20).attr("y1", rows[2] - 7).attr("y2", rows[2] - 7)
        .attr("stroke", "#bdbdbd").attr("stroke-width", 3);
    lg.append("path").attr("d", smallDiamond)
        .attr("transform", "translate(" + lx + "," + (rows[2] - 7) + ") rotate(45)")
        .attr("fill", GREEN).attr("stroke", "#3a8a3a").attr("stroke-width", 0.7);
    lg.selectAll("text")
        .data(legendLabels)
        .join("text")
        .attr("x", lx + 30)
        .attr("y", function (d, i) { return rows[i]; })
        .style("font-size", "20px")
        .text(function (d) { return d; });
}
</script>
</body>
</html>
